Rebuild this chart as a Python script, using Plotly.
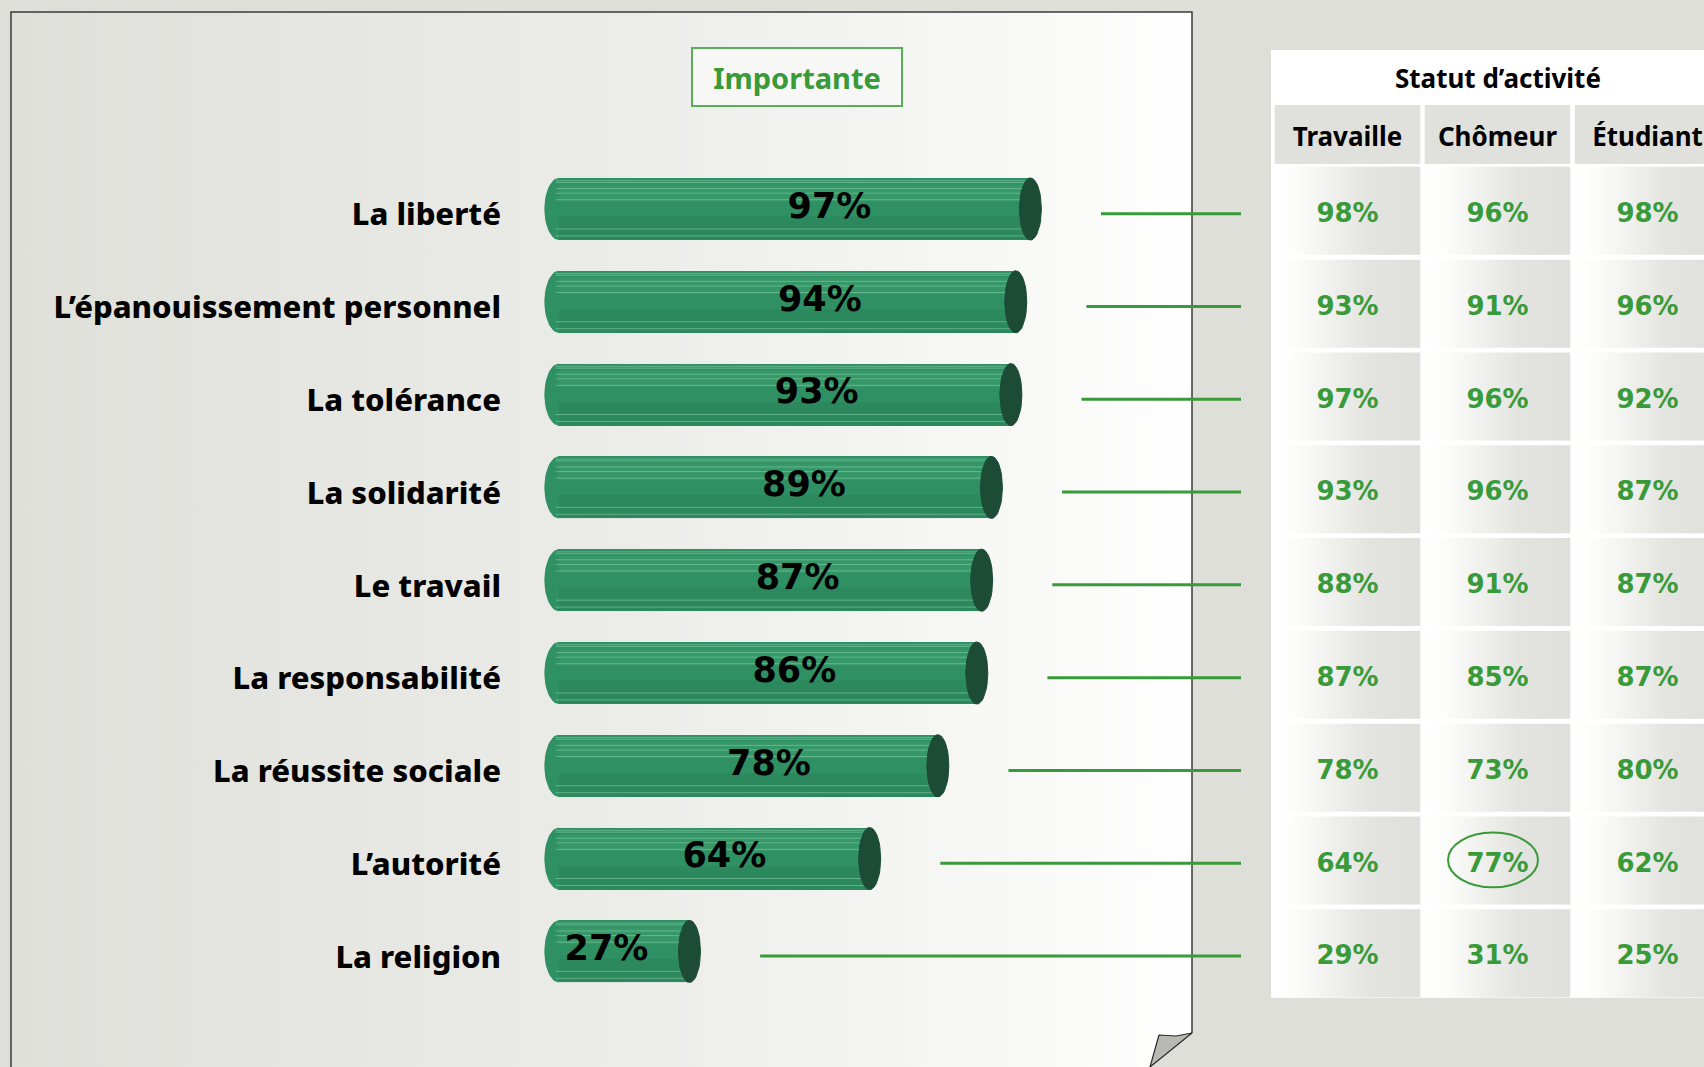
import numpy as np
import plotly.graph_objects as go

# ---------------- data ----------------
categories = ["La liberté", "L’épanouissement personnel", "La tolérance", "La solidarité",
              "Le travail", "La responsabilité", "La réussite sociale", "L’autorité", "La religion"]
importante = [97, 94, 93, 89, 87, 86, 78, 64, 27]
columns = ["Travaille", "Chômeur", "Étudiant"]
travaille = [98, 93, 97, 93, 88, 87, 78, 64, 29]
chomeur = [96, 91, 96, 96, 91, 85, 73, 77, 31]
etudiant = [98, 96, 92, 87, 87, 87, 80, 62, 25]
highlight = ("L’autorité", "Chômeur")
chart_title = "Importante"
table_title = "Statut d’activité"

# ---------------- layout constants ----------------
W, H = 1704, 1067
ROW0, PITCH = 209.0, 92.8          # px of first row centre, px per row
X0PX, PPU = 558.0, 4.87            # px of value 0, px per percent
COL0, COLW = 1347.5, 150.0         # px of first table column centre, px per column
FONT = "Noto Sans"
NUMFONT = "DejaVu Sans"
GREEN = "#399a39"
BAR = "#2f9163"
CAP = "#1d4c36"

rows = np.arange(len(categories))
y_range = [(H - ROW0) / PITCH, -ROW0 / PITCH]
values_by_col = [travaille, chomeur, etudiant]

fig = go.Figure()
nohover = dict(hoverinfo="skip", showlegend=False)

# ---------------- background page (decoration) ----------------
fig.add_trace(go.Scatter(
    x=[11, 1192, 1192, 1150, 11, 11], y=[12, 12, 1033, 1067, 1067, 12],
    fill="toself", mode="lines", line=dict(width=0),
    fillgradient=dict(type="horizontal",
                      colorscale=[[0, "#dfe0da"], [0.5, "#ebebe8"], [0.85, "#f8f8f7"], [1, "#ffffff"]]),
    xaxis="x", yaxis="y", **nohover))
fig.add_trace(go.Scatter(x=[11, 11, 1192, 1192], y=[1067, 12, 12, 1033], mode="lines",
                         line=dict(color="#3a3a3a", width=1.5), xaxis="x", yaxis="y", **nohover))
fig.add_trace(go.Scatter(x=[1159, 1176, 1192, 1150, 1159], y=[1035, 1036, 1033, 1067, 1035],
                         fill="toself", fillcolor="#b9b9b4", mode="lines",
                         line=dict(color="#2a2a2a", width=1.2), xaxis="x", yaxis="y", **nohover))

# ---------------- bars ----------------
fig.add_trace(go.Bar(
    x=importante, y=rows, orientation="h", width=0.67,
    marker=dict(color=BAR, line=dict(width=0)),
    xaxis="x2", yaxis="y2", **nohover))

t = np.linspace(0, 2 * np.pi, 48)
th = np.linspace(np.pi / 2, 3 * np.pi / 2, 24)
# rounded left ends
lex, ley = [], []
for r in rows:
    lex += list(0.2 + 3.0 * np.cos(th)) + [None]
    ley += list(r + 0.335 * np.sin(th)) + [None]
fig.add_trace(go.Scatter(x=lex, y=ley, fill="toself", fillcolor=BAR, mode="lines",
                         line=dict(width=0), xaxis="x2", yaxis="y2", **nohover))

# lighter upper sheen and darker lower shading
upx, upy, shx, shy = [], [], [], []
for r, v in zip(rows, importante):
    upx += [0.2, v, v, 0.2, 0.2, None]
    upy += [r - 0.26, r - 0.26, r - 0.08, r - 0.08, r - 0.26, None]
    shx += [0.2, v, v, 0.2, 0.2, None]
    shy += [r + 0.08, r + 0.08, r + 0.335, r + 0.335, r + 0.08, None]
fig.add_trace(go.Scatter(x=upx, y=upy, fill="toself", mode="lines", line=dict(width=0),
                         fillcolor="rgba(120,210,160,0.10)", xaxis="x2", yaxis="y2", **nohover))
fig.add_trace(go.Scatter(x=shx, y=shy, fill="toself", mode="lines", line=dict(width=0),
                         fillcolor="rgba(20,70,45,0.10)", xaxis="x2", yaxis="y2", **nohover))

# stripes on cylinders
stripe_offsets = [-0.305, -0.285, -0.22, -0.17, -0.10, 0.215, 0.29]
sx, sy = [], []
for r, v in zip(rows, importante):
    for off in stripe_offsets:
        sx += [-0.5, v, None]
        sy += [r + off, r + off, None]
fig.add_trace(go.Scatter(x=sx, y=sy, mode="lines",
                         line=dict(color="rgba(160,225,190,0.45)", width=1),
                         xaxis="x2", yaxis="y2", **nohover))

# elliptical caps
cx, cy = [], []
for r, v in zip(rows, importante):
    cx += list(v + 2.26 * np.cos(t)) + [None]
    cy += list(r + 0.335 * np.sin(t)) + [None]
fig.add_trace(go.Scatter(x=cx, y=cy, fill="toself", fillcolor=CAP, mode="lines",
                         line=dict(color=CAP, width=1), xaxis="x2", yaxis="y2", **nohover))

# value labels on bars
fig.add_trace(go.Scatter(
    x=[0.654 * v - 7.7 for v in importante], y=list(rows), mode="text",
    text=[f"{v}%" for v in importante],
    textfont=dict(family=NUMFONT, size=35, color="black", weight="bold"),
    xaxis="x2", yaxis="y2", **nohover))

# connector lines
lx, ly = [], []
x_end = (1241 - X0PX) / PPU
for r, v in zip(rows, importante):
    lx += [v + 14.5, x_end, None]
    ly += [r + 0.05, r + 0.05, None]
fig.add_trace(go.Scatter(x=lx, y=ly, mode="lines", line=dict(color=GREEN, width=3),
                         xaxis="x2", yaxis="y2", **nohover))

# ---------------- table ----------------
hw, hh = 0.485, 0.474
fig.add_trace(go.Scatter(x=[-0.51, 2.6, 2.6, -0.51, -0.51], y=[-1.713, -1.713, 8.5, 8.5, -1.713],
                         fill="toself", fillcolor="white", mode="lines", line=dict(width=0),
                         xaxis="x3", yaxis="y3", **nohover))
# header cells
hx, hy = [], []
for c in range(len(columns)):
    hx += [c - hw, c + hw, c + hw, c - hw, c - hw, None]
    hy += [-1.12, -1.12, -0.485, -0.485, -1.12, None]
fig.add_trace(go.Scatter(x=hx, y=hy, fill="toself", fillcolor="#e0e0dc", mode="lines",
                         line=dict(width=0), xaxis="x3", yaxis="y3", **nohover))
# data cells (gradient per column)
for c in range(len(columns)):
    gx, gy = [], []
    for r in rows:
        gx += [c - hw, c + hw, c + hw, c - hw, c - hw, None]
        gy += [r - hh + 0.02, r - hh + 0.02, r + hh + 0.02, r + hh + 0.02, r - hh + 0.02, None]
    fig.add_trace(go.Scatter(
        x=gx, y=gy, fill="toself", mode="lines", line=dict(width=0),
        fillgradient=dict(type="horizontal",
                          colorscale=[[0, "#ffffff"], [0.15, "#fcfcfb"], [0.65, "#e3e3df"], [1, "#dfdfdb"]]),
        xaxis="x3", yaxis="y3", **nohover))

# header texts
fig.add_trace(go.Scatter(x=list(range(len(columns))), y=[-0.75] * len(columns), mode="text",
                         text=columns, textfont=dict(family=FONT, size=26, color="black", weight="bold"),
                         xaxis="x3", yaxis="y3", **nohover))
# cell texts
for c, vals in enumerate(values_by_col):
    fig.add_trace(go.Scatter(x=[c] * len(vals), y=[r + 0.07 for r in rows], mode="text",
                             text=[f"{v}%" for v in vals],
                             textfont=dict(family=NUMFONT, size=26, color=GREEN, weight="bold"),
                             xaxis="x3", yaxis="y3", **nohover))

# highlight ellipse
hr = categories.index(highlight[0])
hc = columns.index(highlight[1])
fig.add_shape(type="circle", xref="x3", yref="y3",
              x0=hc - 0.33, x1=hc + 0.27, y0=hr - 0.28, y1=hr + 0.31,
              line=dict(color=GREEN, width=2))

# table title
fig.add_annotation(text=table_title, xref="x3", yref="y3", x=1, y=-1.41, showarrow=False,
                   xanchor="center", yanchor="middle",
                   font=dict(family=FONT, size=26, color="black", weight="bold"))

# chart title box
fig.add_annotation(text=chart_title, xref="paper", yref="paper",
                   x=797 / W, y=1 - 77 / H, xanchor="center", yanchor="middle",
                   showarrow=False, width=206, height=54,
                   bordercolor="#5aae5a", borderwidth=2, bgcolor="#f7f7f6",
                   font=dict(family=FONT, size=29, color=GREEN, weight="bold"))

hidden = dict(visible=False, fixedrange=True)
fig.update_layout(
    width=W, height=H, margin=dict(l=0, r=0, t=0, b=0),
    paper_bgcolor="#dfdfda", plot_bgcolor="rgba(0,0,0,0)",
    showlegend=False, bargap=0,
    xaxis=dict(domain=[0, 1], range=[0, W], anchor="y", **hidden),
    yaxis=dict(domain=[0, 1], range=[H, 0], anchor="x", **hidden),
    xaxis2=dict(domain=[504 / W, 1245 / W], range=[(504 - X0PX) / PPU, (1245 - X0PX) / PPU],
                anchor="y2", **hidden),
    yaxis2=dict(domain=[0, 1], range=y_range, anchor="x2",
                tickvals=[r + 0.06 for r in rows], ticktext=categories,
                showgrid=False, zeroline=False, showline=False, ticks="", fixedrange=True,
                ticklabelstandoff=2,
                tickfont=dict(family=FONT, size=31, color="black", weight=800)),
    xaxis3=dict(domain=[1271 / W, 1], range=[(1271 - COL0) / COLW, (W - COL0) / COLW],
                anchor="y3", **hidden),
    yaxis3=dict(domain=[0, 1], range=y_range, anchor="x3", **hidden),
)

fig.write_html("out.html", config={"displayModeBar": False},
               post_script="document.body.style.margin='0';document.body.style.overflow='hidden';")
